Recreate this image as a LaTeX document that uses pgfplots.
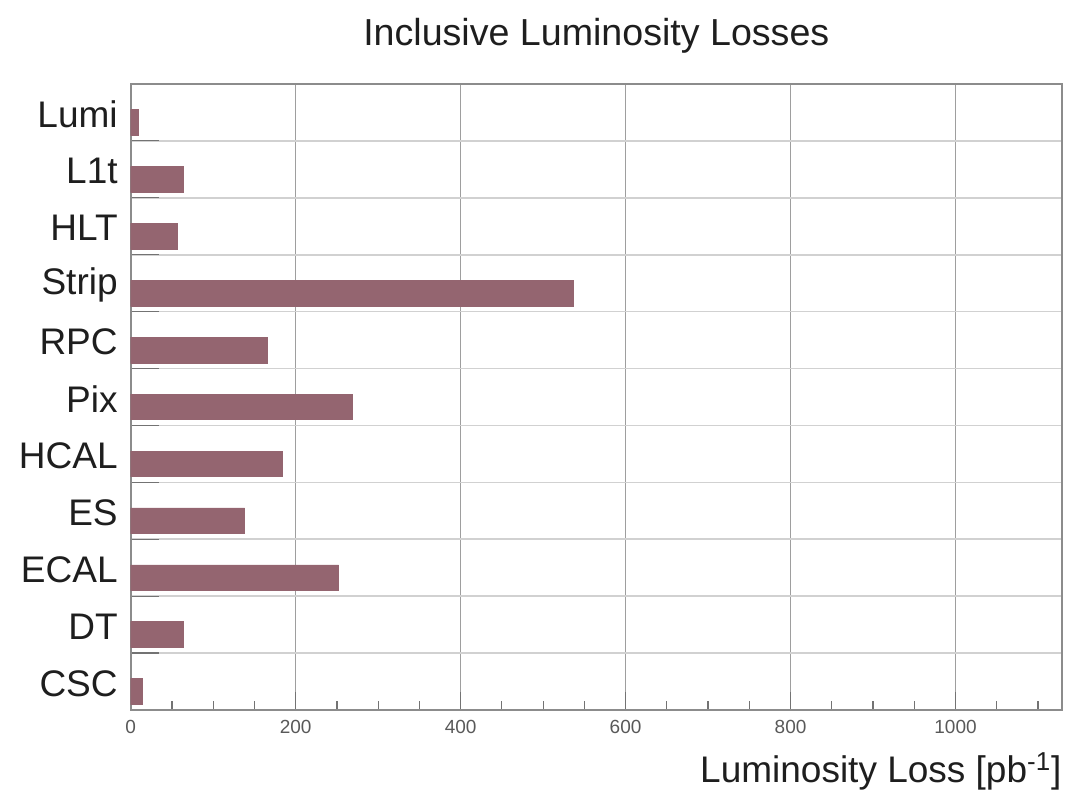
\documentclass[border=0pt]{standalone}
\usepackage{pgfplots}
\pgfplotsset{compat=1.18}
\usepackage{fontspec}
\setmainfont{Liberation Sans}
\definecolor{barc}{RGB}{148,101,112}
\definecolor{txt}{RGB}{30,30,30}
\begin{document}
\begin{tikzpicture}
\path[use as bounding box] (0,0) rectangle (534.5pt,395pt);
\begin{axis}[
  at={(65.35pt,40pt)}, anchor=south west,
  scale only axis, width=465.6pt, height=313pt,
  xbar, bar width=0.45, bar shift=-0.175,
  xmin=0, xmax=1129, ymin=-0.5, ymax=10.5,
  /pgf/number format/assume math mode=true,
  /pgf/number format/1000 sep={},
  axis line style={black!45, line width=1.1pt},
  tick align=inside, xtick pos=bottom, ytick pos=left,
  xtick={0,200,...,1000},
  minor xtick={50,100,...,1100},
  major tick length=9pt, minor tick length=4.5pt,
  every tick/.style={black!55, line width=0.6pt},
  xmajorgrids, major x grid style={black!38, line width=0.7pt},
  ytick={0.5,1.5,...,9.5}, yticklabels={},
  ymajorgrids, major y grid style={black!18, line width=0.8pt},
  ytick style={/pgfplots/major tick length=14pt},
  extra y ticks={0,1,...,10},
  extra y tick labels={CSC,DT,ECAL,ES,HCAL,Pix,RPC,Strip,HLT,L1t,Lumi},
  extra y tick style={grid=none, major tick length=0pt, tick style={draw=none},
     tick label style={font=\fontsize{18.5}{20}\selectfont, text=txt, xshift=-3pt, yshift=-1pt}},
  x tick label style={font=\fontsize{9.5}{11}\selectfont, text=black!65, yshift=-1.5pt},
  title={Inclusive Luminosity Losses},
  title style={at={(rel axis cs:0.5,1)}, anchor=base, yshift=13pt,
     font=\fontsize{18.8}{20}\selectfont, text=txt},
  xlabel={Luminosity Loss [pb\textsuperscript{-1}]},
  xlabel style={at={(rel axis cs:1,0)}, anchor=base east, inner sep=0pt, yshift=-36.5pt,
     font=\fontsize{18.5}{20}\selectfont, text=txt},
]
\addplot[fill=barc, draw=barc, line width=0.3pt] coordinates {
(14.6,0) (64,1) (252,2) (138,3) (184,4) (269,5) (165.6,6) (536.5,7) (57,8) (64,9) (9.5,10)
};
\end{axis}
\end{tikzpicture}
\end{document}
